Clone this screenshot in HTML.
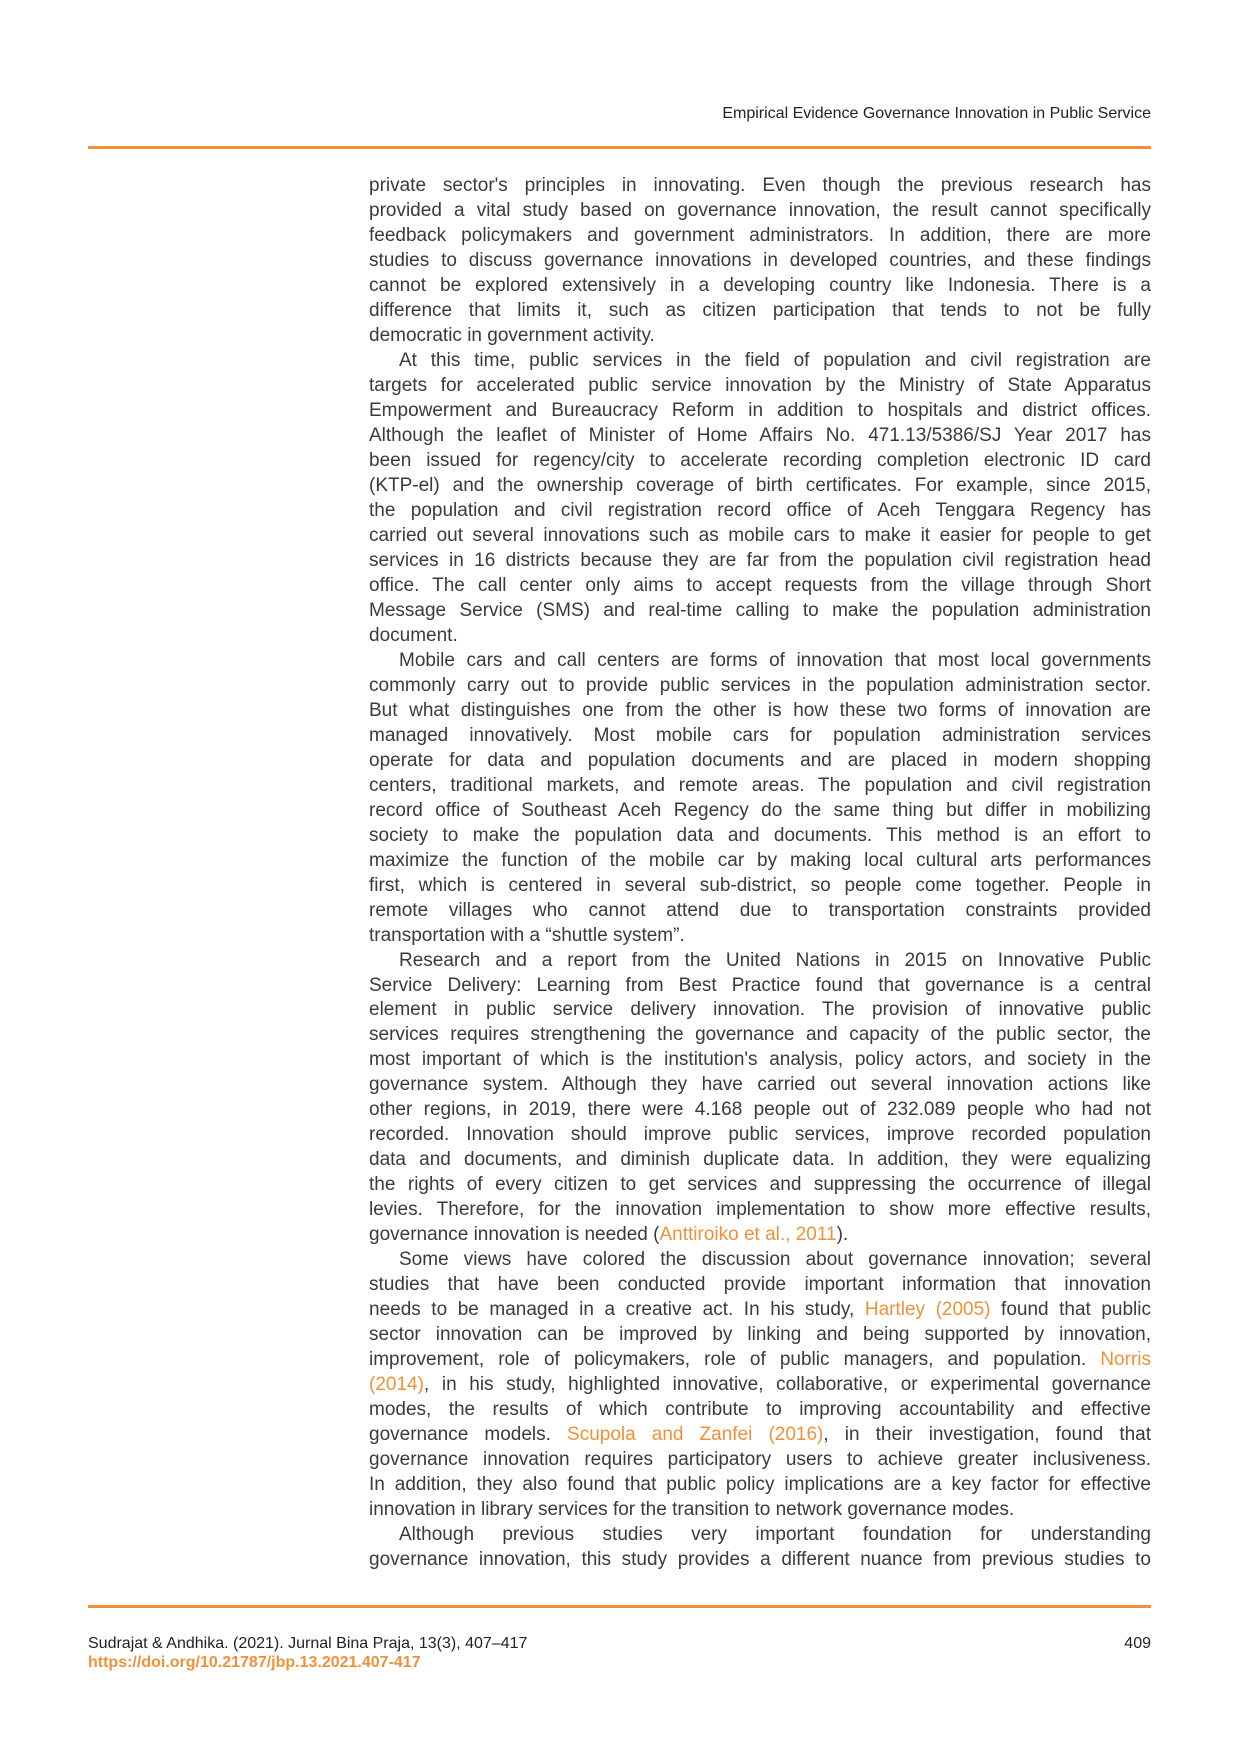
<!DOCTYPE html>
<html><head><meta charset="utf-8"><style>
body{margin:0;background:#fff;}
.page{position:relative;width:1240px;height:1754px;overflow:hidden;font-family:"Liberation Sans",sans-serif;color:#3a3a3a;}
.hdr{position:absolute;right:89px;top:105px;font-size:16px;color:#222;}
.rule{position:absolute;left:88px;width:1063px;height:3px;background:#f0913a;}
.body{position:absolute;left:369px;top:174px;width:782px;font-size:19px;line-height:24.98px;}
.l{text-align:justify;text-align-last:justify;white-space:nowrap;}
.e{text-align:left;white-space:nowrap;}
.i{text-indent:30px;}
a{color:#f0913a;text-decoration:none;}
.ft{position:absolute;left:88px;top:1635px;font-size:16px;color:#222;}
.doi{position:absolute;left:88px;top:1654px;font-size:16px;color:#f0913a;font-weight:bold;}
.pg{position:absolute;right:89px;top:1635px;font-size:16px;color:#222;}
</style></head><body><div class="page">
<div class="hdr">Empirical Evidence Governance Innovation in Public Service</div>
<div class="rule" style="top:146px"></div>
<div class="body">
<div class="l">private sector's principles in innovating. Even though the previous research has</div>
<div class="l">provided a vital study based on governance innovation, the result cannot specifically</div>
<div class="l">feedback policymakers and government administrators. In addition, there are more</div>
<div class="l">studies to discuss governance innovations in developed countries, and these findings</div>
<div class="l">cannot be explored extensively in a developing country like Indonesia. There is a</div>
<div class="l">difference that limits it, such as citizen participation that tends to not be fully</div>
<div class="e">democratic in government activity.</div>
<div class="l i">At this time, public services in the field of population and civil registration are</div>
<div class="l">targets for accelerated public service innovation by the Ministry of State Apparatus</div>
<div class="l">Empowerment and Bureaucracy Reform in addition to hospitals and district offices.</div>
<div class="l">Although the leaflet of Minister of Home Affairs No. 471.13/5386/SJ Year 2017 has</div>
<div class="l">been issued for regency/city to accelerate recording completion electronic ID card</div>
<div class="l">(KTP-el) and the ownership coverage of birth certificates. For example, since 2015,</div>
<div class="l">the population and civil registration record office of Aceh Tenggara Regency has</div>
<div class="l">carried out several innovations such as mobile cars to make it easier for people to get</div>
<div class="l">services in 16 districts because they are far from the population civil registration head</div>
<div class="l">office. The call center only aims to accept requests from the village through Short</div>
<div class="l">Message Service (SMS) and real-time calling to make the population administration</div>
<div class="e">document.</div>
<div class="l i">Mobile cars and call centers are forms of innovation that most local governments</div>
<div class="l">commonly carry out to provide public services in the population administration sector.</div>
<div class="l">But what distinguishes one from the other is how these two forms of innovation are</div>
<div class="l">managed innovatively. Most mobile cars for population administration services</div>
<div class="l">operate for data and population documents and are placed in modern shopping</div>
<div class="l">centers, traditional markets, and remote areas. The population and civil registration</div>
<div class="l">record office of Southeast Aceh Regency do the same thing but differ in mobilizing</div>
<div class="l">society to make the population data and documents. This method is an effort to</div>
<div class="l">maximize the function of the mobile car by making local cultural arts performances</div>
<div class="l">first, which is centered in several sub-district, so people come together. People in</div>
<div class="l">remote villages who cannot attend due to transportation constraints provided</div>
<div class="e">transportation with a “shuttle system”.</div>
<div class="l i">Research and a report from the United Nations in 2015 on Innovative Public</div>
<div class="l">Service Delivery: Learning from Best Practice found that governance is a central</div>
<div class="l">element in public service delivery innovation. The provision of innovative public</div>
<div class="l">services requires strengthening the governance and capacity of the public sector, the</div>
<div class="l">most important of which is the institution's analysis, policy actors, and society in the</div>
<div class="l">governance system. Although they have carried out several innovation actions like</div>
<div class="l">other regions, in 2019, there were 4.168 people out of 232.089 people who had not</div>
<div class="l">recorded. Innovation should improve public services, improve recorded population</div>
<div class="l">data and documents, and diminish duplicate data. In addition, they were equalizing</div>
<div class="l">the rights of every citizen to get services and suppressing the occurrence of illegal</div>
<div class="l">levies. Therefore, for the innovation implementation to show more effective results,</div>
<div class="e">governance innovation is needed (<a>Anttiroiko et al., 2011</a>).</div>
<div class="l i">Some views have colored the discussion about governance innovation; several</div>
<div class="l">studies that have been conducted provide important information that innovation</div>
<div class="l">needs to be managed in a creative act. In his study, <a>Hartley (2005)</a> found that public</div>
<div class="l">sector innovation can be improved by linking and being supported by innovation,</div>
<div class="l">improvement, role of policymakers, role of public managers, and population. <a>Norris</a></div>
<div class="l"><a>(2014)</a>, in his study, highlighted innovative, collaborative, or experimental governance</div>
<div class="l">modes, the results of which contribute to improving accountability and effective</div>
<div class="l">governance models. <a>Scupola and Zanfei (2016)</a>, in their investigation, found that</div>
<div class="l">governance innovation requires participatory users to achieve greater inclusiveness.</div>
<div class="l">In addition, they also found that public policy implications are a key factor for effective</div>
<div class="e">innovation in library services for the transition to network governance modes.</div>
<div class="l i">Although previous studies very important foundation for understanding</div>
<div class="l">governance innovation, this study provides a different nuance from previous studies to</div>
</div>
<div class="rule" style="top:1605px"></div>
<div class="ft">Sudrajat &amp; Andhika. (2021). Jurnal Bina Praja, 13(3), 407–417</div>
<div class="doi">https://doi.org/10.21787/jbp.13.2021.407-417</div>
<div class="pg">409</div>
</div></body></html>
